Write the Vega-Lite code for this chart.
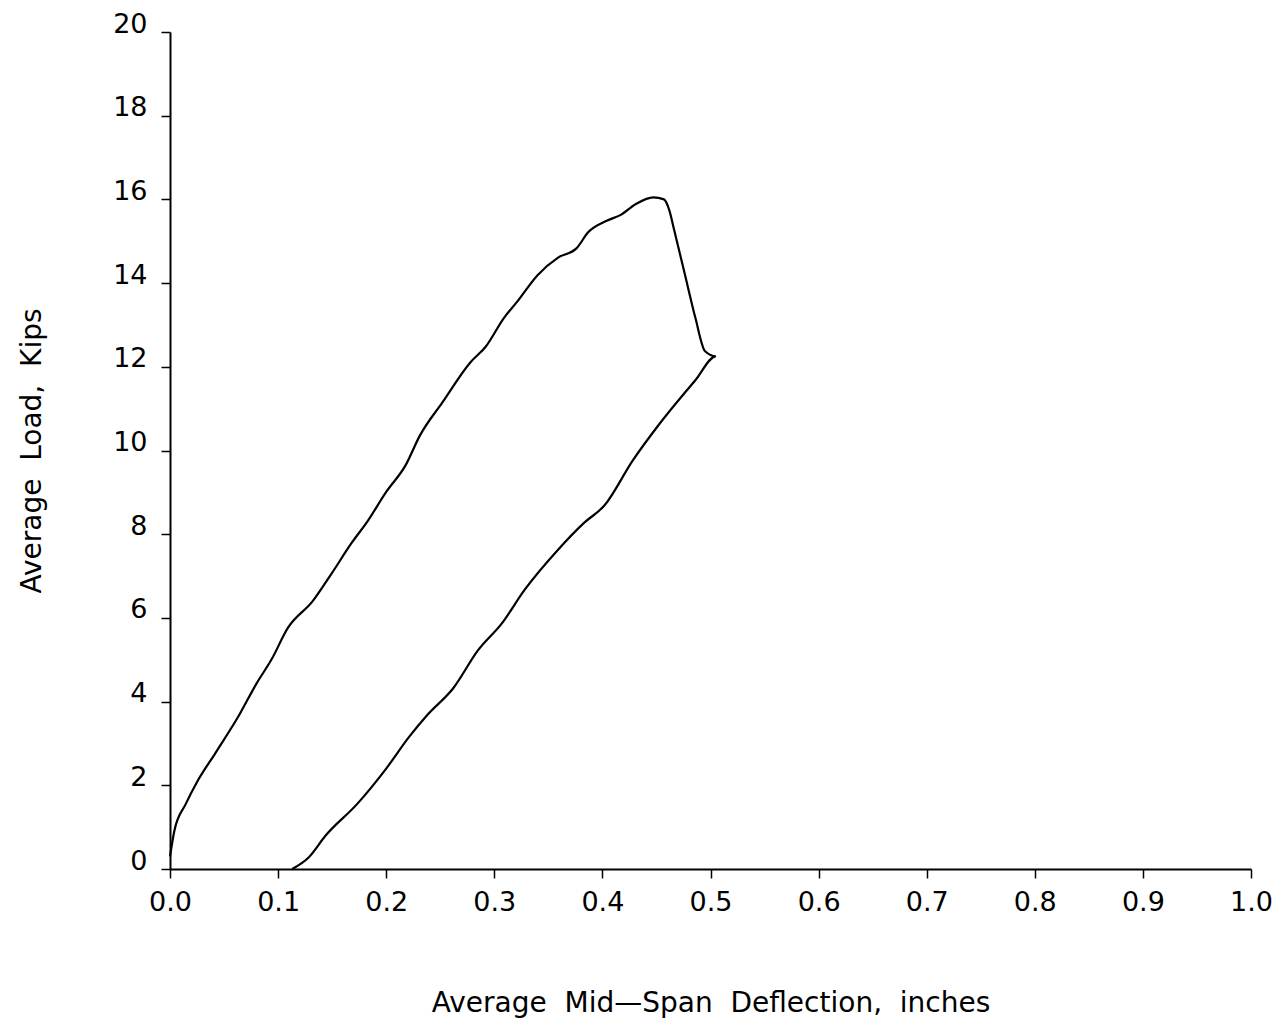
{
  "$schema": "https://vega.github.io/schema/vega-lite/v6.json",
  "width": 1081,
  "height": 837,
  "autosize": {"type": "none"},
  "padding": {"left": 170, "top": 32, "right": 33, "bottom": 160},
  "background": "white",
  "config": {
    "view": {"stroke": null},
    "font": "DejaVu Sans",
    "axis": {
      "grid": false,
      "domainColor": "black",
      "domainWidth": 2,
      "tickColor": "black",
      "tickWidth": 1.5,
      "tickSize": 9,
      "labelColor": "black",
      "labelFont": "DejaVu Sans",
      "labelFontSize": 27,
      "titleColor": "black",
      "titleFont": "DejaVu Sans",
      "titleFontSize": 28,
      "titleFontWeight": "normal"
    }
  },
  "data": {
    "values": [
      {"i": 0, "x": 0.0, "y": 0.3},
      {"i": 1, "x": 0.004, "y": 0.91},
      {"i": 2, "x": 0.0145, "y": 1.55},
      {"i": 3, "x": 0.025, "y": 2.08},
      {"i": 4, "x": 0.042, "y": 2.77},
      {"i": 5, "x": 0.064, "y": 3.68},
      {"i": 6, "x": 0.08, "y": 4.43},
      {"i": 7, "x": 0.094, "y": 5.01},
      {"i": 8, "x": 0.109, "y": 5.76},
      {"i": 9, "x": 0.132, "y": 6.4},
      {"i": 10, "x": 0.149, "y": 7.04},
      {"i": 11, "x": 0.168, "y": 7.79},
      {"i": 12, "x": 0.183, "y": 8.32},
      {"i": 13, "x": 0.2, "y": 9.01},
      {"i": 14, "x": 0.218, "y": 9.65},
      {"i": 15, "x": 0.231, "y": 10.35},
      {"i": 16, "x": 0.252, "y": 11.15},
      {"i": 17, "x": 0.278, "y": 12.11},
      {"i": 18, "x": 0.292, "y": 12.48},
      {"i": 19, "x": 0.309, "y": 13.17},
      {"i": 20, "x": 0.321, "y": 13.55},
      {"i": 21, "x": 0.34, "y": 14.19},
      {"i": 22, "x": 0.359, "y": 14.61},
      {"i": 23, "x": 0.376, "y": 14.83},
      {"i": 24, "x": 0.387, "y": 15.22},
      {"i": 25, "x": 0.404, "y": 15.49},
      {"i": 26, "x": 0.417, "y": 15.63},
      {"i": 27, "x": 0.431, "y": 15.89},
      {"i": 28, "x": 0.447, "y": 16.05},
      {"i": 29, "x": 0.457, "y": 16.0},
      {"i": 30, "x": 0.462, "y": 15.73},
      {"i": 31, "x": 0.466, "y": 15.31},
      {"i": 32, "x": 0.476, "y": 14.24},
      {"i": 33, "x": 0.486, "y": 13.17},
      {"i": 34, "x": 0.495, "y": 12.37},
      {"i": 35, "x": 0.505, "y": 12.25},
      {"i": 36, "x": 0.486, "y": 11.68},
      {"i": 37, "x": 0.452, "y": 10.61},
      {"i": 38, "x": 0.428, "y": 9.76},
      {"i": 39, "x": 0.402, "y": 8.69},
      {"i": 40, "x": 0.383, "y": 8.27},
      {"i": 41, "x": 0.359, "y": 7.63},
      {"i": 42, "x": 0.328, "y": 6.67},
      {"i": 43, "x": 0.307, "y": 5.87},
      {"i": 44, "x": 0.285, "y": 5.23},
      {"i": 45, "x": 0.262, "y": 4.32},
      {"i": 46, "x": 0.238, "y": 3.68},
      {"i": 47, "x": 0.221, "y": 3.15},
      {"i": 48, "x": 0.2, "y": 2.4},
      {"i": 49, "x": 0.173, "y": 1.55},
      {"i": 50, "x": 0.144, "y": 0.8},
      {"i": 51, "x": 0.128, "y": 0.27},
      {"i": 52, "x": 0.113, "y": 0.0}
    ]
  },
  "mark": {"type": "line", "color": "black", "strokeWidth": 2.2, "interpolate": "monotone"},
  "encoding": {
    "order": {"field": "i", "type": "quantitative"},
    "x": {
      "field": "x",
      "type": "quantitative",
      "scale": {"domain": [0, 1], "nice": false, "zero": false},
      "axis": {
        "title": "Average \u00a0Mid\u2014Span \u00a0Deflection, \u00a0inches",
        "values": [0, 0.1, 0.2, 0.3, 0.4, 0.5, 0.6, 0.7, 0.8, 0.9, 1.0],
        "format": ".1f",
        "labelPadding": 11,
        "titlePadding": 74,
        "labelFlush": false
      }
    },
    "y": {
      "field": "y",
      "type": "quantitative",
      "scale": {"domain": [0, 20], "nice": false},
      "axis": {
        "title": "Average \u00a0Load, \u00a0Kips",
        "values": [0, 2, 4, 6, 8, 10, 12, 14, 16, 18, 20],
        "labelPadding": 14,
        "labelBaseline": "alphabetic",
        "titlePadding": 66,
        "labelFlush": false
      }
    }
  }
}
